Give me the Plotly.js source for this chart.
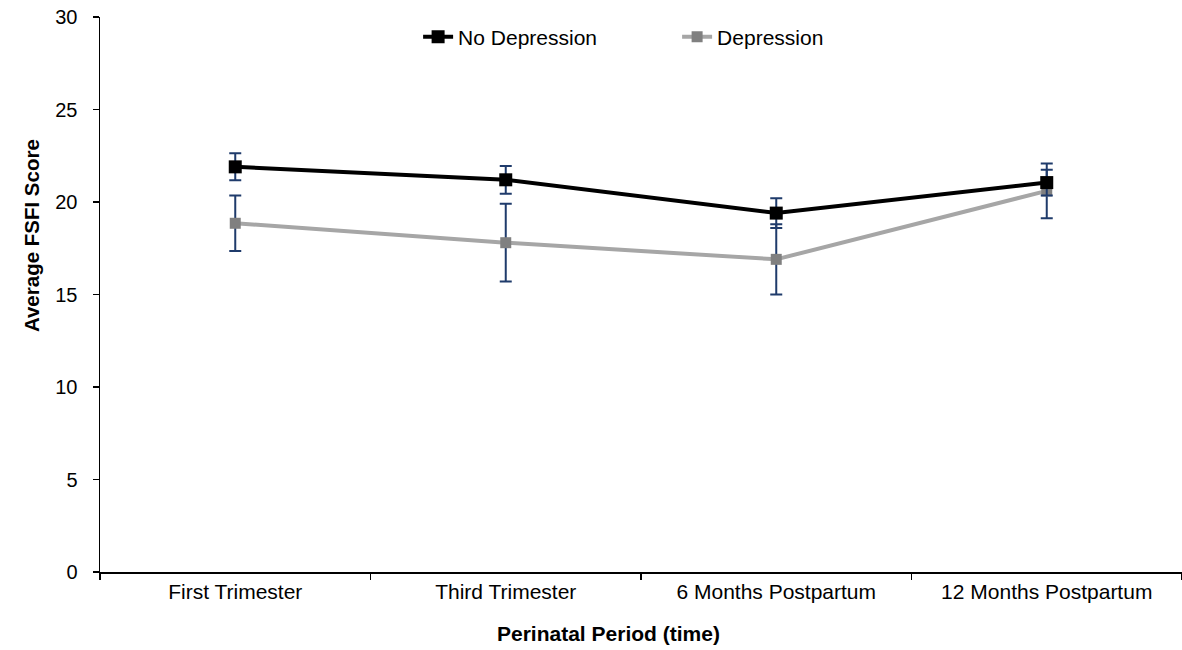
<!DOCTYPE html>
<html>
<head>
<meta charset="utf-8">
<script src="https://cdn.plot.ly/plotly-3.0.1.min.js"></script>
<style>html,body{margin:0;padding:0;background:#fff;}#chart{width:1182px;height:650px;}</style>
</head>
<body>
<div id="chart"></div>
<script>
const periods = ["First Trimester", "Third Trimester", "6 Months Postpartum", "12 Months Postpartum"];
const noDepression = [21.9, 21.2, 19.4, 21.05];
const noDepressionErr = [0.73, 0.75, 0.8, 0.7];
const depression = [18.85, 17.8, 16.9, 20.6];
const depressionErr = [1.5, 2.1, 1.9, 1.48];
const yTicks = [0, 5, 10, 15, 20, 25, 30];
const xTitle = "Perinatal Period (time)";
const yTitle = "Average FSFI Score";

const errColor = "#1F3B6B";
const font = "Liberation Sans, Arial, sans-serif";

const traces = [
  {
    x: periods, y: depression, name: "Depression", type: "scatter", mode: "lines+markers",
    line: {color: "#A6A6A6", width: 4},
    marker: {symbol: "square", size: 11, color: "#808080"},
    error_y: {type: "data", array: depressionErr, visible: true, color: errColor, thickness: 2, width: 6},
    legendrank: 2
  },
  {
    x: periods, y: noDepression, name: "No Depression", type: "scatter", mode: "lines+markers",
    line: {color: "#000000", width: 4},
    marker: {symbol: "square", size: 13, color: "#000000"},
    error_y: {type: "data", array: noDepressionErr, visible: true, color: errColor, thickness: 2, width: 6},
    legendrank: 1
  }
];

const layout = {
  width: 1182, height: 650,
  margin: {l: 100, r: 0, t: 17, b: 78},
  paper_bgcolor: "#fff", plot_bgcolor: "#fff",
  font: {family: font, size: 21, color: "#000"},
  showlegend: true,
  legend: {
    orientation: "h", x: 0.294, xanchor: "left", y: 0.964, yanchor: "middle",
    font: {family: font, size: 21, color: "#000"},
    entrywidth: 214, entrywidthmode: "pixels", bgcolor: "rgba(0,0,0,0)"
  },
  xaxis: {
    type: "category", tickson: "boundaries", ticks: "outside", ticklen: 6, tickwidth: 1.5, tickcolor: "#000",
    showline: true, linecolor: "#000", linewidth: 1.5, showgrid: false, zeroline: false,
    tickfont: {family: font, size: 21, color: "#000"},
    range: [-0.5, 3.5], fixedrange: true
  },
  yaxis: {
    range: [0, 30], tickvals: yTicks, ticktext: yTicks.map(String),
    ticks: "outside", ticklen: 6, tickwidth: 1.5, tickcolor: "#000",
    showline: true, linecolor: "#000", linewidth: 1.5, showgrid: false, zeroline: false,
    tickfont: {family: font, size: 20, color: "#000"}, ticklabelstandoff: 11
  },
  annotations: [
    {text: "<b>" + xTitle + "</b>", xref: "paper", yref: "paper", x: 0.4704, y: -0.1117,
     xanchor: "center", yanchor: "middle", showarrow: false, font: {family: font, size: 21, color: "#000"}},
    {text: "<b>" + yTitle + "</b>", xref: "paper", yref: "paper", x: -0.0638, y: 0.607,
     xanchor: "center", yanchor: "middle", textangle: -90, showarrow: false, font: {family: font, size: 20.5, color: "#000"}}
  ]
};

Plotly.newPlot("chart", traces, layout, {displayModeBar: false, staticPlot: true});
</script>
</body>
</html>
